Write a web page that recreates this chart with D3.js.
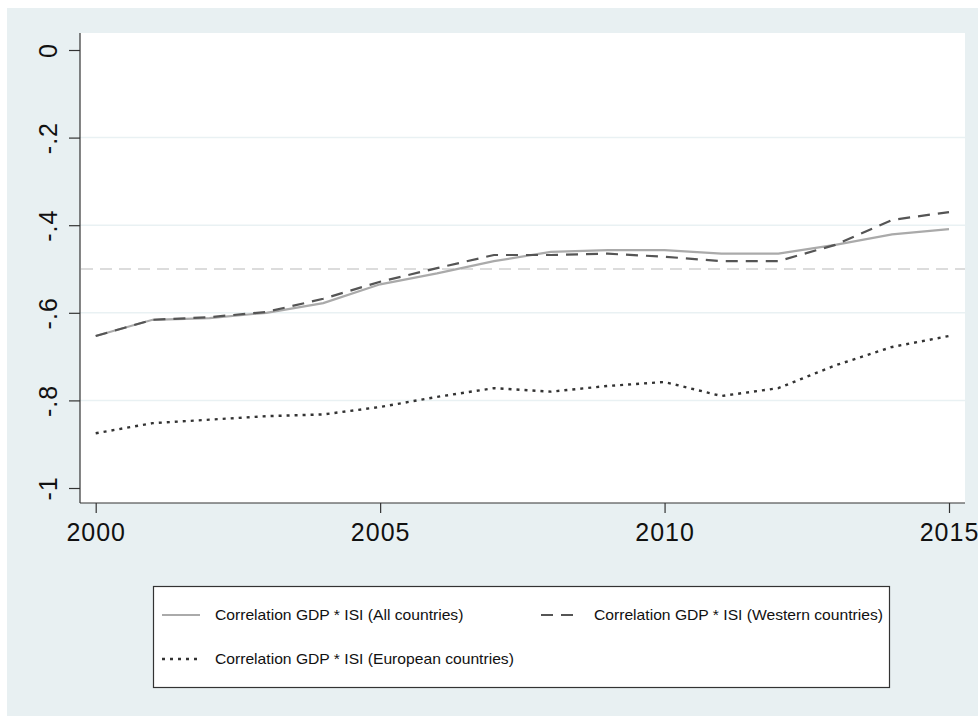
<!DOCTYPE html>
<html>
<head>
<meta charset="utf-8">
<script src="https://cdn.jsdelivr.net/npm/d3@7"></script>
<style>
  html, body { margin: 0; padding: 0; background: #ffffff; }
  svg { display: block; font-family: "Liberation Sans", Arial, sans-serif; }
</style>
</head>
<body>
<svg id="chart" width="978" height="717"></svg>
<script>
// Yearly correlation between GDP and ISI for three country groups
const years = [2000, 2001, 2002, 2003, 2004, 2005, 2006, 2007, 2008, 2009, 2010, 2011, 2012, 2013, 2014, 2015];
const allCountries = [-0.653, -0.616, -0.612, -0.600, -0.578, -0.535, -0.510, -0.482, -0.461, -0.457, -0.457, -0.465, -0.465, -0.445, -0.421, -0.409];
const westernCountries = [-0.653, -0.616, -0.610, -0.598, -0.568, -0.529, -0.498, -0.468, -0.468, -0.465, -0.472, -0.482, -0.482, -0.445, -0.388, -0.370];
const europeanCountries = [-0.875, -0.852, -0.844, -0.836, -0.832, -0.815, -0.792, -0.772, -0.780, -0.767, -0.758, -0.790, -0.772, -0.720, -0.678, -0.653];
const yTicks = [0, -0.2, -0.4, -0.6, -0.8, -1];
const yTickLabels = ["0", "-.2", "-.4", "-.6", "-.8", "-1"];
const xTicks = [2000, 2005, 2010, 2015];
const referenceValue = -0.5;
const legendLabels = [
  "Correlation GDP * ISI (All countries)",
  "Correlation GDP * ISI (Western countries)",
  "Correlation GDP * ISI (European countries)"
];

const svg = d3.select("#chart");

// graph region background
svg.append("rect").attr("x", 7).attr("y", 8).attr("width", 971).attr("height", 708)
  .attr("fill", "#e8f0f2");

// plot region
const plot = { left: 80, top: 33, right: 965, bottom: 503 };
svg.append("rect")
  .attr("x", plot.left).attr("y", plot.top)
  .attr("width", plot.right - plot.left).attr("height", plot.bottom - plot.top)
  .attr("fill", "#ffffff");

const x = d3.scaleLinear().domain([2000, 2015]).range([95.7, 949]);
const y = d3.scaleLinear().domain([-1, 0]).range([488, 50]);

// horizontal grid lines at the inner ticks
svg.append("g").selectAll("line")
  .data(yTicks.filter(v => v !== 0 && v !== -1))
  .join("line")
  .attr("x1", plot.left).attr("x2", plot.right)
  .attr("y1", d => y(d)).attr("y2", d => y(d))
  .attr("stroke", "#e9f1f3").attr("stroke-width", 1.5);

// reference line at -0.5
svg.append("line")
  .attr("x1", plot.left + 1).attr("x2", plot.right)
  .attr("y1", y(referenceValue)).attr("y2", y(referenceValue))
  .attr("stroke", "#dcdcdc").attr("stroke-width", 2)
  .attr("stroke-dasharray", "12,7");

// axes
const yAxis = d3.axisLeft(y).tickValues(yTicks)
  .tickFormat((d, i) => yTickLabels[i]).tickSize(11).tickSizeOuter(0);
const gy = svg.append("g").attr("transform", `translate(${plot.left},0)`).call(yAxis);
gy.select(".domain").remove();
gy.append("line").attr("x1", 0).attr("x2", 0).attr("y1", plot.top).attr("y2", plot.bottom)
  .attr("stroke", "#333333").attr("stroke-width", 1.2);
gy.selectAll(".tick line").attr("stroke", "#333333").attr("stroke-width", 1.2);
gy.selectAll(".tick text")
  .attr("x", 0).attr("dy", 0)
  .attr("transform", "translate(-23,0) rotate(-90)")
  .attr("text-anchor", "middle")
  .attr("font-size", 25)
  .attr("letter-spacing", 1)
  .attr("font-family", "Liberation Sans, Arial, sans-serif")
  .attr("fill", "#111111");

const xAxis = d3.axisBottom(x).tickValues(xTicks).tickFormat(d3.format("d"))
  .tickSize(10).tickSizeOuter(0);
const gx = svg.append("g").attr("transform", `translate(0,${plot.bottom})`).call(xAxis);
gx.select(".domain").remove();
gx.append("line").attr("x1", plot.left).attr("x2", plot.right).attr("y1", 0).attr("y2", 0)
  .attr("stroke", "#333333").attr("stroke-width", 1.2);
gx.selectAll(".tick line").attr("stroke", "#333333").attr("stroke-width", 1.2);
gx.selectAll(".tick text")
  .attr("y", 38).attr("dy", 0)
  .attr("font-size", 25)
  .attr("letter-spacing", 1)
  .attr("font-family", "Liberation Sans, Arial, sans-serif")
  .attr("fill", "#111111");

// series
const series = [
  { values: allCountries, color: "#aaaaaa", width: 2.2, dash: null },
  { values: westernCountries, color: "#555555", width: 2.2, dash: "12,8" },
  { values: europeanCountries, color: "#333333", width: 2.4, dash: "3,5" }
];
const line = d3.line().x((d, i) => x(years[i])).y(d => y(d));
series.forEach(s => {
  svg.append("path")
    .datum(s.values)
    .attr("d", line)
    .attr("fill", "none")
    .attr("stroke", s.color)
    .attr("stroke-width", s.width)
    .attr("stroke-dasharray", s.dash);
});

// legend
const legend = svg.append("g");
legend.append("rect")
  .attr("x", 153.5).attr("y", 586.5).attr("width", 736).attr("height", 101)
  .attr("fill", "#ffffff").attr("stroke", "#333333").attr("stroke-width", 1.2);
const legendPos = [
  { lx: 162, ty: 615, tx: 215 },
  { lx: 541, ty: 615, tx: 594 },
  { lx: 162, ty: 659, tx: 215 }
];
legendPos.forEach((p, i) => {
  legend.append("line")
    .attr("x1", p.lx).attr("x2", p.lx + 38)
    .attr("y1", p.ty).attr("y2", p.ty)
    .attr("stroke", series[i].color)
    .attr("stroke-width", series[i].width)
    .attr("stroke-dasharray", series[i].dash);
  // slightly widened glyphs for the legend labels
  legend.append("text")
    .attr("transform", `translate(${p.tx},${p.ty}) scale(1.08,1)`)
    .attr("dy", "0.35em")
    .attr("font-size", 14.5)
    .attr("fill", "#111111")
    .text(legendLabels[i]);
});
</script>
</body>
</html>
